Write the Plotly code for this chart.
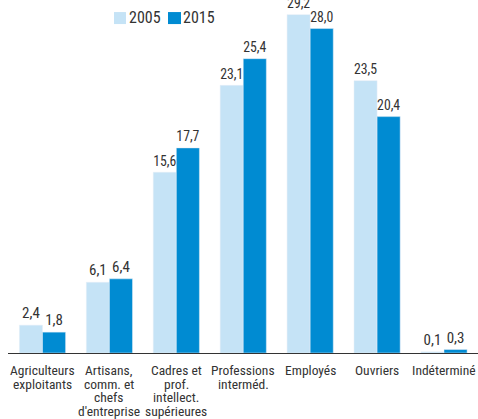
import plotly.graph_objects as go

categories = ["Agriculteurs exploitants", "Artisans, comm. et chefs d'entreprise",
              "Cadres et prof. intellect. supérieures", "Professions interméd.",
              "Employés", "Ouvriers", "Indéterminé"]
tick_lines = [["Agriculteurs", "exploitants"],
              ["Artisans,", "comm. et", "chefs", "d'entreprise"],
              ["Cadres et", "prof.", "intellect.", "supérieures"],
              ["Professions", "interméd."],
              ["Employés"], ["Ouvriers"], ["Indéterminé"]]
series_names = ["2005", "2015"]
v2005 = [2.4, 6.1, 15.6, 23.1, 29.2, 23.5, 0.1]
v2015 = [1.8, 6.4, 17.7, 25.4, 28.0, 20.4, 0.3]
colors = ["#c5e3f6", "#008bd2"]

def fmt(v):
    return f"{v:.1f}".replace(".", ",")

FONT = "Liberation Sans Narrow, Roboto Condensed, Arial Narrow, sans-serif"
TXT = "#333333"

fig = go.Figure()
for name, vals, col in zip(series_names, [v2005, v2015], colors):
    fig.add_trace(go.Bar(name=name, x=categories, y=vals, marker_color=col,
                         text=[fmt(v) for v in vals], textposition="outside",
                         textfont=dict(size=15, color=TXT), cliponaxis=False,
                         showlegend=False, hoverinfo="skip"))

# category labels (tight line spacing)
for cat, lines in zip(categories, tick_lines):
    for i, line in enumerate(lines):
        fig.add_annotation(x=cat, y=0, xref="x", yref="y", text=line, showarrow=False,
                           xanchor="center", yanchor="middle", yshift=-(17 + i * 13.5),
                           font=dict(size=13.5, color=TXT, family=FONT))

# legend
leg_sq = [(0.2255, 0.251), (0.3404, 0.3681)]
leg_tx = [0.2553, 0.3702]
for name, col, (a, b), tx in zip(series_names, colors, leg_sq, leg_tx):
    fig.add_shape(type="rect", xref="paper", yref="paper", x0=a, x1=b, y0=0.959, y1=0.994,
                  fillcolor=col, line=dict(width=0))
    fig.add_annotation(x=tx, y=0.977, xref="paper", yref="paper", text=name, showarrow=False,
                       xanchor="left", yanchor="middle", font=dict(size=16, color=TXT, family=FONT),
                       borderpad=0)

fig.update_layout(
    width=478, height=419,
    margin=dict(l=8, r=0, t=10, b=66, autoexpand=False),
    barmode="group", bargap=0.31, bargroupgap=0,
    plot_bgcolor="white", paper_bgcolor="white",
    font=dict(family=FONT, size=14, color=TXT),
    showlegend=False,
    xaxis=dict(showline=True, linecolor="#333", linewidth=1, ticks="",
               showticklabels=False, automargin=False),
    yaxis=dict(range=[0, 29.6], visible=False, showgrid=False, automargin=False),
)
fig.write_html("out.html", config={"displayModeBar": False},
               post_script="document.body.style.margin='0';")
